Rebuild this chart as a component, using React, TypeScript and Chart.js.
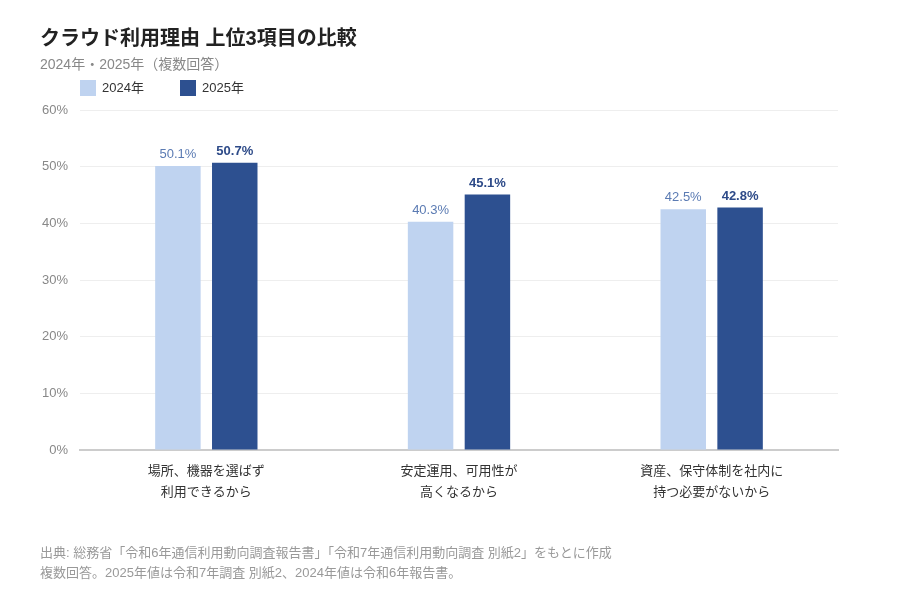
import { useEffect, useRef } from 'react';
import { Chart, registerables } from 'chart.js';

Chart.register(...registerables);

const FONT = "'Liberation Sans', Arial, 'Noto Sans CJK JP', sans-serif";

const categories = [
  ['場所、機器を選ばず', '利用できるから'],
  ['安定運用、可用性が', '高くなるから'],
  ['資産、保守体制を社内に', '持つ必要がないから'],
];
const values2024 = [50.1, 40.3, 42.5];
const values2025 = [50.7, 45.1, 42.8];
const seriesNames = ['2024年', '2025年'];
const colors = ['#BFD3F0', '#2D5090'];
const labelColors = ['#5B7BB3', '#2D4A88'];

const valueLabels = {
  id: 'valueLabels',
  afterDatasetsDraw(chart: any) {
    const ctx = chart.ctx;
    chart.data.datasets.forEach((ds: any, i: number) => {
      const meta = chart.getDatasetMeta(i);
      meta.data.forEach((bar: any, j: number) => {
        ctx.save();
        ctx.font = `${i === 1 ? 'bold ' : ''}13px ${FONT}`;
        ctx.fillStyle = labelColors[i];
        ctx.textAlign = 'center';
        ctx.textBaseline = 'bottom';
        ctx.fillText(`${ds.data[j].toFixed(1)}%`, bar.x, bar.y - 5);
        ctx.restore();
      });
    });
  },
};

const ChartComponent = () => {
  const chartContainer = useRef<HTMLCanvasElement>(null);

  useEffect(() => {
    if (chartContainer && chartContainer.current) {
      const myChart = new Chart(chartContainer.current, {
        type: 'bar',
        data: {
          labels: categories,
          datasets: [
            {
              label: seriesNames[0],
              data: values2024,
              backgroundColor: colors[0],
              barPercentage: 0.8,
              categoryPercentage: 0.45,
            },
            {
              label: seriesNames[1],
              data: values2025,
              backgroundColor: colors[1],
              barPercentage: 0.8,
              categoryPercentage: 0.45,
            },
          ],
        },
        options: {
          animation: false,
          responsive: false,
          layout: { padding: { left: 0, right: 62, top: 110, bottom: 0 } },
          plugins: {
            legend: { display: false },
            tooltip: { enabled: false },
          },
          scales: {
            x: {
              grid: { display: false },
              border: { color: '#CCCCCC', width: 2 },
              ticks: {
                color: '#333333',
                padding: 3,
                font: { family: FONT, size: 13, lineHeight: 1.6 },
              },
              afterFit: (scale: any) => {
                scale.height = 150;
              },
            },
            y: {
              min: 0,
              max: 60,
              ticks: {
                stepSize: 10,
                color: '#888888',
                padding: 12,
                font: { family: FONT, size: 13 },
                callback: (v: any) => `${v}%`,
              },
              grid: { color: '#EEEEEE', drawTicks: false },
              border: { display: false },
              afterFit: (scale: any) => {
                scale.width = 80;
              },
            },
          },
        },
        plugins: [valueLabels],
      });
      return () => myChart.destroy();
    }
  }, []);

  return <canvas ref={chartContainer} width={900} height={600} style={{ position: 'absolute', left: 0, top: 0 }} />;
};

const App = () => {
  useEffect(() => {
    document.body.style.margin = '0';
  }, []);

  return (
    <div style={{ position: 'relative', width: 900, height: 600, background: '#fff', fontFamily: FONT }}>
      <ChartComponent />
      <div style={{ position: 'absolute', left: 40, top: 22, fontSize: 20, fontWeight: 'bold', color: '#222' }}>
        クラウド利用理由 上位3項目の比較
      </div>
      <div style={{ position: 'absolute', left: 40, top: 53, fontSize: 14, color: '#888' }}>
        2024年・2025年（複数回答）
      </div>
      {seriesNames.map((name, i) => (
        <div
          key={name}
          style={{ position: 'absolute', left: 80 + i * 100, top: 80, height: 16, lineHeight: '16px', display: 'flex', alignItems: 'center', fontSize: 13, color: '#333' }}
        >
          <span style={{ display: 'inline-block', width: 16, height: 16, background: colors[i], marginRight: 6 }} />
          {name}
        </div>
      ))}
      <div style={{ position: 'absolute', left: 40, top: 543, fontSize: 13, color: '#999', lineHeight: '20px' }}>
        出典: 総務省「令和6年通信利用動向調査報告書」「令和7年通信利用動向調査 別紙2」をもとに作成
        <br />
        複数回答。2025年値は令和7年調査 別紙2、2024年値は令和6年報告書。
      </div>
    </div>
  );
};

export default App;
